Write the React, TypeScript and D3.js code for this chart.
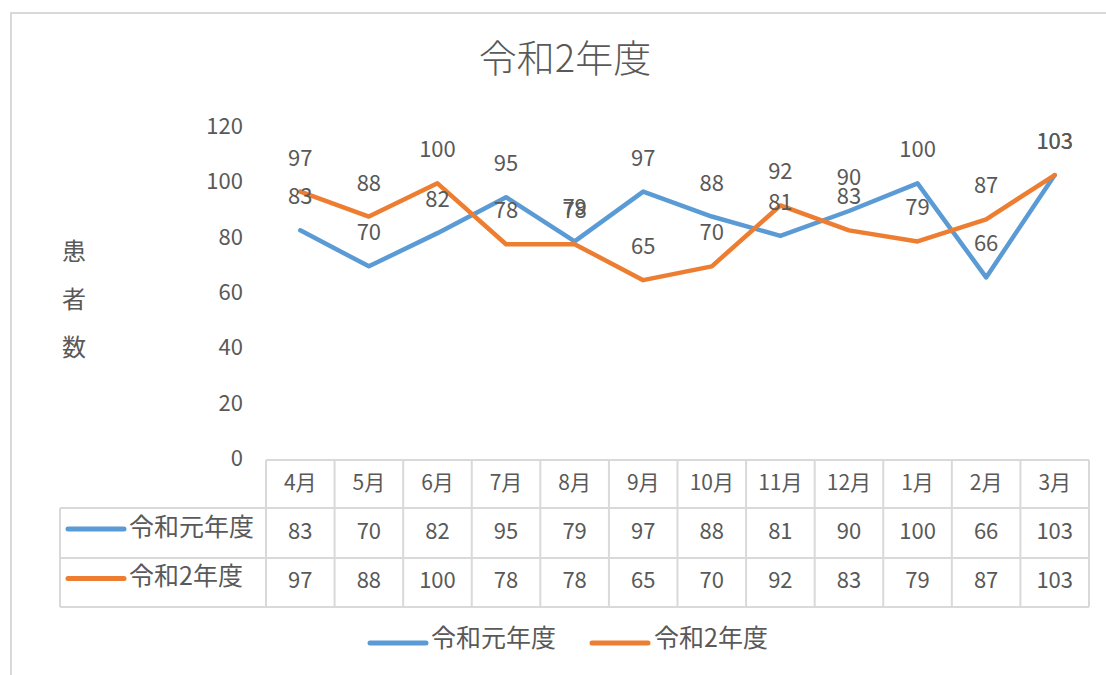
import React from "react";
import * as d3 from "d3";

const months = ["4月", "5月", "6月", "7月", "8月", "9月", "10月", "11月", "12月", "1月", "2月", "3月"];
const seriesNames = ["令和元年度", "令和2年度"];
const reiwa1 = [83, 70, 82, 95, 79, 97, 88, 81, 90, 100, 66, 103];
const reiwa2 = [97, 88, 100, 78, 78, 65, 70, 92, 83, 79, 87, 103];
const yTicks = [0, 20, 40, 60, 80, 100, 120];
const colors = ["#5B9BD5", "#ED7D31"];

const FONT = "'Noto Sans CJK JP', 'Noto Sans', sans-serif";
const TXT = "#595959";
const GRID = "#D9D9D9";

export default function App() {
  const width = 1106;
  const height = 675;

  const x = d3.scaleBand<string>().domain(months).range([266, 1089]);
  const y = d3.scaleLinear().domain([0, 120]).range([460, 128]);
  const cx = (m: string) => (x(m) as number) + x.bandwidth() / 2;

  const line = d3
    .line<number>()
    .x((_, i) => cx(months[i]))
    .y((d) => y(d));

  const series = [reiwa1, reiwa2];

  // table rows
  const rowTop = [460, 508, 558, 607];
  const tableLeft = 60;
  const tableRight = 1089;

  return (
    <svg width={width} height={height} style={{ display: "block", position: "absolute", left: 0, top: 0 }} fontFamily={FONT}>
      <rect x={0} y={0} width={width} height={height} fill="#fff" />
      <rect x={11} y={13} width={1200} height={800} fill="#fff" stroke={GRID} strokeWidth={2} />

      {/* title */}
      <text x={565} y={62} textAnchor="middle" dominantBaseline="middle" fontSize={38} fontWeight={300} fill={TXT}>
        令和2年度
      </text>

      {/* y axis title */}
      {["患", "者", "数"].map((c, i) => (
        <text key={c} x={74} y={253 + i * 48} textAnchor="middle" dominantBaseline="middle" fontSize={24} fill={TXT}>
          {c}
        </text>
      ))}

      {/* y ticks */}
      {yTicks.map((t) => (
        <text key={t} x={243} y={y(t)} textAnchor="end" dominantBaseline="middle" fontSize={22} fill={TXT}>
          {t}
        </text>
      ))}

      {/* lines */}
      {series.map((s, k) => (
        <path key={k} d={line(s) as string} fill="none" stroke={colors[k]} strokeWidth={4.5} strokeLinejoin="round" strokeLinecap="round" />
      ))}

      {/* data labels */}
      {series.map((s, k) =>
        s.map((v, i) => (
          <text key={`${k}-${i}`} x={cx(months[i])} y={y(v) - 32} textAnchor="middle" dominantBaseline="middle" fontSize={22} fill={TXT}>
            {v}
          </text>
        ))
      )}

      {/* data table */}
      <g stroke={GRID} strokeWidth={2} fill="none">
        <line x1={266} x2={tableRight} y1={rowTop[0]} y2={rowTop[0]} />
        <line x1={tableLeft} x2={tableRight} y1={rowTop[1]} y2={rowTop[1]} />
        <line x1={tableLeft} x2={tableRight} y1={rowTop[2]} y2={rowTop[2]} />
        <line x1={tableLeft} x2={tableRight} y1={rowTop[3]} y2={rowTop[3]} />
        <line x1={tableLeft} x2={tableLeft} y1={rowTop[1]} y2={rowTop[3]} />
        {months.map((m) => (
          <line key={m} x1={x(m) as number} x2={x(m) as number} y1={rowTop[0]} y2={rowTop[3]} />
        ))}
        <line x1={tableRight} x2={tableRight} y1={rowTop[0]} y2={rowTop[3]} />
      </g>
      {months.map((m) => (
        <text key={m} x={cx(m)} y={(rowTop[0] + rowTop[1]) / 2} textAnchor="middle" dominantBaseline="middle" fontSize={21} fill={TXT}>
          {m}
        </text>
      ))}
      {series.map((s, k) => {
        const my = (rowTop[k + 1] + rowTop[k + 2]) / 2;
        return (
          <g key={k}>
            <line x1={68} x2={124} y1={my - 4} y2={my - 4} stroke={colors[k]} strokeWidth={5} strokeLinecap="round" />
            <text x={129} y={my - 4} dominantBaseline="middle" fontSize={25} fill={TXT}>
              {seriesNames[k]}
            </text>
            {s.map((v, i) => (
              <text key={i} x={cx(months[i])} y={my} textAnchor="middle" dominantBaseline="middle" fontSize={22} fill={TXT}>
                {v}
              </text>
            ))}
          </g>
        );
      })}

      {/* legend */}
      {[
        { lx: 370, tx: 431 },
        { lx: 592, tx: 654 },
      ].map((p, k) => (
        <g key={k}>
          <line x1={p.lx} x2={p.lx + 56} y1={643} y2={643} stroke={colors[k]} strokeWidth={5} strokeLinecap="round" />
          <text x={p.tx} y={640} dominantBaseline="middle" fontSize={25} fill={TXT}>
            {seriesNames[k]}
          </text>
        </g>
      ))}
    </svg>
  );
}
